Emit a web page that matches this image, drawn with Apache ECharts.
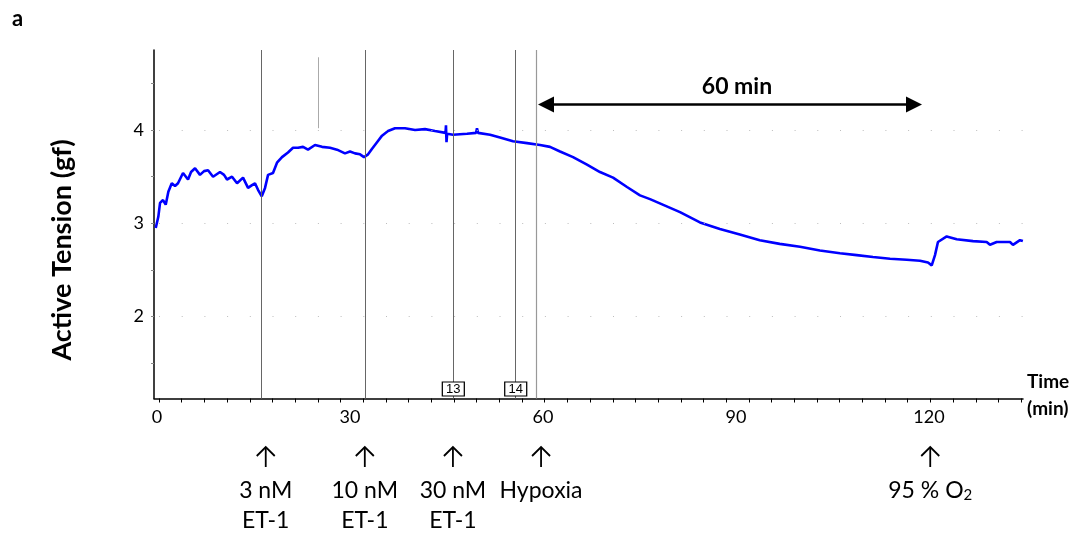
<!DOCTYPE html>
<html>
<head>
<meta charset="utf-8">
<script src="https://cdn.jsdelivr.net/npm/echarts@6/dist/echarts.min.js"></script>
<style>
  html, body { margin: 0; padding: 0; background: #fff; }
  #chart { width: 1085px; height: 537px; }
</style>
</head>
<body>
<div id="chart"></div>
<script>
// Recorded isometric tension trace (time in min, tension in gf)
const timeMin = [
  -0.2, 0.2, 0.47, 0.93, 1.35, 1.76, 2.29, 2.8, 3.26, 4.04, 4.82, 5.29, 5.91, 6.68, 7.31, 7.93,
  8.71, 9.79, 10.42, 10.88, 11.66, 12.44, 13.37, 14.15, 14.77, 15.23, 15.7, 16.28, 16.79, 17.26,
  18.03, 18.65, 19.43, 20.36, 21.14, 21.92, 22.7, 23.47, 24.56, 25.65, 26.89, 27.98, 29.22, 30.0,
  30.78, 31.56, 32.18, 32.81, 33.43, 34.2, 34.98, 35.91, 37.0, 38.55, 40.11, 41.66, 43.21, 44.85,
  44.92, 45.0, 45.1, 46.01, 48.19, 49.6, 49.74, 49.9, 51.77, 53.32, 55.34, 57.52, 59.54, 61.09,
  62.65, 64.67, 66.84, 68.86, 70.89, 73.06, 75.08, 76.64, 81.3, 84.4, 87.5, 90.6, 93.7, 96.8,
  99.95, 103.05, 106.17, 108.77, 111.3, 113.95, 116.54, 118.61, 119.85, 120.43, 120.94, 121.4,
  122.76, 124.31, 126.85, 128.97, 129.49, 130.53, 132.6, 133.06, 134.15, 134.6
];
const tensionGf = [
  2.95, 3.07, 3.22, 3.25, 3.20, 3.34, 3.43, 3.40, 3.43, 3.54, 3.47, 3.55, 3.59, 3.52, 3.56, 3.57,
  3.50, 3.55, 3.52, 3.47, 3.50, 3.43, 3.49, 3.38, 3.41, 3.43, 3.36, 3.29, 3.38, 3.52,
  3.54, 3.65, 3.71, 3.76, 3.81, 3.81, 3.82, 3.79, 3.84, 3.82, 3.81, 3.79, 3.75, 3.77,
  3.75, 3.74, 3.71, 3.74, 3.80, 3.87, 3.94, 3.99, 4.02, 4.02, 4.00, 4.01, 3.99, 3.97,
  4.05, 3.87, 3.96, 3.95, 3.96, 3.97, 4.02, 3.97, 3.95, 3.92, 3.88, 3.86, 3.84, 3.82,
  3.77, 3.71, 3.63, 3.55, 3.49, 3.39, 3.30, 3.26, 3.12, 3.01, 2.94, 2.88, 2.82, 2.78,
  2.75, 2.71, 2.68, 2.66, 2.64, 2.62, 2.61, 2.60, 2.58, 2.55, 2.66, 2.80,
  2.86, 2.83, 2.81, 2.80, 2.77, 2.80, 2.80, 2.77, 2.82, 2.81
];

// Axis ticks and labels
const xTickLabels = [0, 30, 60, 90, 120];
const yTickLabels = [2, 3, 4];
const yTicks = [1.5, 2, 2.5, 3, 3.5, 4, 4.5];
const xTickStart = 0.31;
const xTickStep = 3.527;

// Event markers (min)
const eventLines = [16.28, 32.44, 46.06, 55.76];
const hypoxiaLine = 58.99;
const commentMarks = [{ t: 46.06, text: '13' }, { t: 55.76, text: '14' }];
const noteLine = { t: 25.07, from: 4.02, to: 4.78 };
const spanArrow = { from: 60.47, to: 117.68, level: 4.274, text: '60 min', textAt: [90.16, 4.47] };

// Annotation labels under the time axis
const annotations = [
  { t: 16.9, lines: ['3 nM', 'ET-1'] },
  { t: 32.3, lines: ['10 nM', 'ET-1'] },
  { t: 46.0, lines: ['30 nM', 'ET-1'] },
  { t: 59.7, lines: ['Hypoxia'] },
  { t: 120.2, lines: ['95 % O', '2'], sub: true }
];

const FONT = 'Lato, "Noto Sans", sans-serif';
const xMin = -0.47, xMax = 134.62;
const yMin = 1.123, yMax = 4.858;

const xTicks = [];
for (let v = xTickStart; v <= xMax; v += xTickStep) xTicks.push(+v.toFixed(3));

const chart = echarts.init(document.getElementById('chart'));

chart.setOption({
  animation: false,
  backgroundColor: '#fff',
  grid: { left: 154, right: 62, top: 50, bottom: 138.5 },
  xAxis: {
    type: 'value', min: xMin, max: xMax,
    axisLine: { onZero: false, lineStyle: { color: '#000', width: 1.5 } },
    axisTick: { show: true, customValues: xTicks, length: 4, lineStyle: { color: '#000', width: 1 } },
    axisLabel: { customValues: xTickLabels, fontSize: 18, fontFamily: FONT, color: '#000', margin: 10 },
    splitLine: { show: false }
  },
  yAxis: {
    type: 'value', min: yMin, max: yMax,
    axisLine: { onZero: false, lineStyle: { color: '#000', width: 1.5 } },
    axisTick: { show: true, customValues: yTicks, length: 3, lineStyle: { color: '#888', width: 1 } },
    axisLabel: { customValues: yTickLabels, fontSize: 18, fontFamily: FONT, color: '#000', margin: 10 },
    splitLine: { show: false }
  },
  series: [
    {
      // dotted horizontal guides, event lines and the short note line
      type: 'line', data: [], z: 1, silent: true,
      markLine: {
        silent: true, symbol: 'none', animation: false,
        label: { show: false },
        data: [
          ...yTickLabels.map(v => ({ yAxis: v, lineStyle: { color: '#bdbdbd', width: 1, type: [1, 21.7], dashOffset: 17.7 } })),
          ...eventLines.map(t => ({ xAxis: t, lineStyle: { color: '#666', width: 1, type: 'solid' } })),
          { xAxis: hypoxiaLine, lineStyle: { color: '#999', width: 1.2, type: 'solid' } },
          [
            { coord: [noteLine.t, noteLine.from], lineStyle: { color: '#aaa', width: 1, type: 'solid' } },
            { coord: [noteLine.t, noteLine.to] }
          ]
        ]
      }
    },
    {
      // 60 min span arrow, comment boxes and span label
      type: 'line', data: [], z: 4, silent: true,
      markLine: {
        silent: true, animation: false,
        symbol: ['triangle', 'triangle'], symbolSize: [16, 16],
        label: { show: false },
        itemStyle: { color: '#000' },
        lineStyle: { color: '#000', width: 2.6, type: 'solid' },
        data: [[{ coord: [spanArrow.from, spanArrow.level] }, { coord: [spanArrow.to, spanArrow.level] }]]
      },
      markPoint: {
        silent: true, animation: false,
        data: [
          ...commentMarks.map(c => ({
            coord: [c.t, 1.225], symbol: 'rect', symbolSize: [22, 14],
            itemStyle: { color: '#fff', borderColor: '#000', borderWidth: 1 },
            label: { show: true, position: 'inside', formatter: c.text, color: '#000', fontSize: 13, fontFamily: '"Liberation Sans", Arial, sans-serif' }
          })),
          {
            coord: spanArrow.textAt, symbol: 'circle', symbolSize: 0,
            label: { show: true, position: 'inside', formatter: spanArrow.text, color: '#000', fontSize: 23, fontWeight: 'bold', fontFamily: FONT }
          }
        ]
      }
    },
    {
      name: 'Active Tension', type: 'line', z: 3,
      data: timeMin.map((t, i) => [t, tensionGf[i]]),
      showSymbol: false, symbol: 'none',
      lineStyle: { color: '#0000ff', width: 2.6 },
      clip: false
    }
  ]
});

// Text and arrows placed relative to the axes
const graphics = [
  { type: 'text', left: 12, top: 8, style: { text: 'a', font: 'bold 22px ' + FONT, fill: '#000' } },
  {
    type: 'text', x: 62, y: 250, rotation: Math.PI / 2,
    style: { text: 'Active Tension (gf)', font: 'bold 27px ' + FONT, fill: '#000', align: 'center', verticalAlign: 'middle' }
  },
  {
    type: 'text', x: 1027, y: 395,
    style: { text: 'Time\n(min)', font: 'bold 19px ' + FONT, fill: '#000', align: 'left', verticalAlign: 'middle', lineHeight: 27 }
  }
];

annotations.forEach(a => {
  const x = chart.convertToPixel({ xAxisIndex: 0 }, a.t);
  graphics.push({
    type: 'polyline', shape: { points: [[x, 467], [x, 447]] },
    style: { stroke: '#000', lineWidth: 1.8, fill: null }
  });
  graphics.push({
    type: 'polyline', shape: { points: [[x - 9, 456], [x, 447], [x + 9, 456]] },
    style: { stroke: '#000', lineWidth: 1.8, fill: null }
  });
  if (a.sub) {
    graphics.push({
      type: 'text', x: x, y: 491,
      style: {
        text: '{m|' + a.lines[0] + '}{s|' + a.lines[1] + '}',
        align: 'center', verticalAlign: 'middle',
        rich: {
          m: { font: '23px ' + FONT, fill: '#000' },
          s: { font: '15px ' + FONT, fill: '#000', padding: [8, 0, 0, 0] }
        }
      }
    });
  } else {
    a.lines.forEach((ln, i) => {
      graphics.push({
        type: 'text', x: x, y: 491 + i * 30,
        style: { text: ln, font: '23px ' + FONT, fill: '#000', align: 'center', verticalAlign: 'middle' }
      });
    });
  }
});

chart.setOption({ graphic: graphics });
</script>
</body>
</html>
